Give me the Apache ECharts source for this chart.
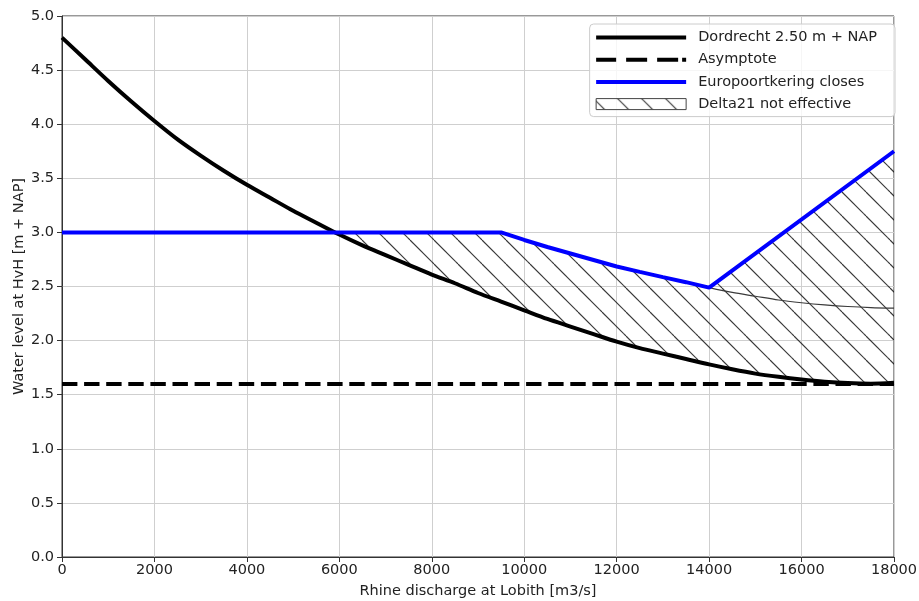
<!DOCTYPE html>
<html>
<head>
<meta charset="utf-8">
<script src="https://cdn.jsdelivr.net/npm/echarts@6/dist/echarts.min.js"></script>
<style>
  html, body { margin: 0; padding: 0; background: #ffffff; }
  #chart { width: 919px; height: 601px; }
</style>
</head>
<body>
<div id="chart"></div>
<script>
// Rhine discharge at Lobith [m3/s]
const discharge = [
  0, 500, 1000, 1500, 2000, 2500, 3000, 3500, 4000, 4500,
  5000, 5500, 6000, 6500, 7000, 7500, 8000, 8500, 9000, 9500,
  10000, 10500, 11000, 11500, 12000, 12500, 13000, 13500, 14000, 14500,
  15000, 15500, 16000, 16500, 17000, 17500, 18000
];

// Water level at Hoek van Holland that keeps Dordrecht at 2.50 m + NAP
const dordrecht = [
  4.80, 4.60, 4.40, 4.21, 4.03, 3.86, 3.71, 3.57, 3.44, 3.32,
  3.20, 3.09, 2.98, 2.88, 2.79, 2.70, 2.61, 2.53, 2.44, 2.36,
  2.28, 2.20, 2.13, 2.06, 1.99, 1.93, 1.88, 1.83, 1.78, 1.735,
  1.695, 1.665, 1.64, 1.62, 1.607, 1.602, 1.61
];

// Asymptotic level
const asymptoteX = [0, 18000];
const asymptoteY = [1.6, 1.6];

// Closing level of the Europoortkering
const europoortX = [0, 9500, 10000, 10500, 11000, 11500, 12000, 12500, 13000, 13500, 14000, 18000];
const europoortY = [3.0, 3.0, 2.93, 2.865, 2.805, 2.745, 2.685, 2.635, 2.587, 2.54, 2.49, 3.75];

// Inner boundary of the hatched region beyond 14000 m3/s
const boundaryX = [14000, 14500, 15000, 15500, 16000, 16500, 17000, 17500, 18000];
const boundaryY = [2.49, 2.445, 2.41, 2.375, 2.35, 2.33, 2.315, 2.305, 2.30];

const pairs = (xs, ys) => xs.map((x, i) => [x, ys[i]]);

function interp(xs, ys, x) {
  for (let i = 0; i < xs.length - 1; i++) {
    if (x >= xs[i] && x <= xs[i + 1]) {
      const t = (x - xs[i]) / (xs[i + 1] - xs[i]);
      return ys[i] + t * (ys[i + 1] - ys[i]);
    }
  }
  return ys[ys.length - 1];
}

// Region where the Dordrecht curve lies below the closing level
function hatchRegion() {
  let xc = null;
  for (let i = 0; i < discharge.length - 1; i++) {
    const d0 = dordrecht[i] - interp(europoortX, europoortY, discharge[i]);
    const d1 = dordrecht[i + 1] - interp(europoortX, europoortY, discharge[i + 1]);
    if (d0 >= 0 && d1 < 0) {
      xc = discharge[i] + (d0 / (d0 - d1)) * (discharge[i + 1] - discharge[i]);
      break;
    }
  }
  const lower = [[xc, interp(discharge, dordrecht, xc)]];
  discharge.forEach((x, i) => { if (x > xc) lower.push([x, dordrecht[i]]); });
  const upperX = [xc].concat(europoortX.filter(x => x > xc));
  const upper = upperX.map(x => [x, interp(europoortX, europoortY, x)]).reverse();
  return lower.concat(upper);
}

// Diagonal "\" hatch tile
function hatchTile(step, offset) {
  const c = document.createElement('canvas');
  c.width = step; c.height = step;
  const ctx = c.getContext('2d');
  ctx.strokeStyle = 'rgba(20,20,20,0.85)';
  ctx.lineWidth = 1.2;
  for (let k = -1; k <= 1; k++) {
    const o = offset + k * step;
    ctx.beginPath();
    ctx.moveTo(o, 0);
    ctx.lineTo(o + step, step);
    ctx.stroke();
  }
  return c;
}

const hatchFill = { image: hatchTile(24, 2), repeat: 'repeat' };
const legendHatch = { image: hatchTile(24, 20), repeat: 'repeat' };
const region = hatchRegion();

const font = 'DejaVu Sans';
const fontSize = 14.5;
const textColor = '#222222';

const chart = echarts.init(document.getElementById('chart'), null, { renderer: 'canvas' });

chart.setOption({
  animation: false,
  backgroundColor: '#ffffff',
  grid: {
    left: 62, right: 25, top: 16, bottom: 44,
    show: true, borderColor: '#333333', borderWidth: 1,
    backgroundColor: 'transparent',
    containLabel: false,
    outerBoundsMode: 'none'
  },
  legend: {
    orient: 'vertical',
    right: 24, top: 24,
    padding: [6, 18, 5, 6],
    itemGap: 7.2,
    itemWidth: 90,
    itemHeight: 14,
    symbolKeepAspect: true,
    selectedMode: false,
    backgroundColor: 'rgba(255,255,255,0.8)',
    borderColor: '#cccccc',
    borderWidth: 1,
    borderRadius: 4,
    textStyle: { fontFamily: font, fontSize: fontSize, color: textColor, padding: [0, 0, 0, 7] },
    data: [
      { name: 'Dordrecht 2.50 m + NAP', icon: 'path://M0,0h90v4h-90z',
        itemStyle: { color: '#000000', borderWidth: 0 } },
      { name: 'Asymptote', icon: 'path://M0,0h20v4h-20z M30,0h21v4h-21z M61,0h21v4h-21z M86,0h4v4h-4z',
        itemStyle: { color: '#000000', borderWidth: 0 } },
      { name: 'Europoortkering closes', icon: 'path://M0,0h90v4h-90z',
        itemStyle: { color: '#0000ff', borderWidth: 0 } },
      { name: 'Delta21 not effective', icon: 'path://M0,0h90v11h-90z',
        itemStyle: { color: legendHatch, borderColor: '#444444', borderWidth: 1 } }
    ]
  },
  xAxis: {
    type: 'value',
    min: 0, max: 18000, interval: 2000,
    name: 'Rhine discharge at Lobith [m3/s]',
    nameLocation: 'middle',
    nameGap: 27,
    nameMoveOverlap: false,
    nameTextStyle: { fontFamily: font, fontSize: fontSize, color: textColor },
    axisLine: { show: true, onZero: false, lineStyle: { color: '#333333', width: 1 } },
    axisTick: { show: true, inside: false, length: 5, lineStyle: { color: '#333333', width: 1 } },
    axisLabel: { fontFamily: font, fontSize: fontSize, color: textColor, margin: 6,
                 formatter: v => String(v) },
    splitLine: { show: true, lineStyle: { color: '#cfcfcf', width: 1 } }
  },
  yAxis: {
    type: 'value',
    min: 0, max: 5, interval: 0.5,
    name: 'Water level at HvH [m + NAP]',
    nameLocation: 'middle',
    nameGap: 35,
    nameMoveOverlap: false,
    nameTextStyle: { fontFamily: font, fontSize: fontSize, color: textColor },
    axisLine: { show: true, onZero: false, lineStyle: { color: '#333333', width: 1 } },
    axisTick: { show: true, inside: false, length: 5, lineStyle: { color: '#333333', width: 1 } },
    axisLabel: { fontFamily: font, fontSize: fontSize, color: textColor, margin: 8,
                 formatter: v => v.toFixed(1) },
    splitLine: { show: true, lineStyle: { color: '#cfcfcf', width: 1 } }
  },
  series: [
    {
      type: 'custom',
      name: 'Delta21 not effective',
      coordinateSystem: 'cartesian2d',
      data: region,
      silent: true,
      z: 1,
      renderItem: (params, api) => {
        if (params.dataIndex !== 0) return null;
        const pts = region.map(p => api.coord(p));
        return {
          type: 'polygon',
          shape: { points: pts },
          style: { fill: hatchFill, stroke: null, lineWidth: 0 }
        };
      }
    },
    {
      type: 'line',
      name: 'Delta21 boundary',
      data: pairs(boundaryX, boundaryY),
      symbol: 'none',
      smooth: 0.3,
      silent: true,
      z: 2,
      lineStyle: { color: '#3a3a3a', width: 1.2 }
    },
    {
      type: 'line',
      name: 'Asymptote',
      data: pairs(asymptoteX, asymptoteY),
      symbol: 'none',
      silent: true,
      z: 3,
      lineStyle: { color: '#000000', width: 4, type: [15.4, 6.7], cap: 'butt' }
    },
    {
      type: 'line',
      name: 'Dordrecht 2.50 m + NAP',
      data: pairs(discharge, dordrecht),
      symbol: 'none',
      smooth: 0.3,
      silent: true,
      z: 4,
      lineStyle: { color: '#000000', width: 4 }
    },
    {
      type: 'line',
      name: 'Europoortkering closes',
      data: pairs(europoortX, europoortY),
      symbol: 'none',
      silent: true,
      z: 5,
      lineStyle: { color: '#0000ff', width: 4 }
    }
  ]
});
</script>
</body>
</html>
